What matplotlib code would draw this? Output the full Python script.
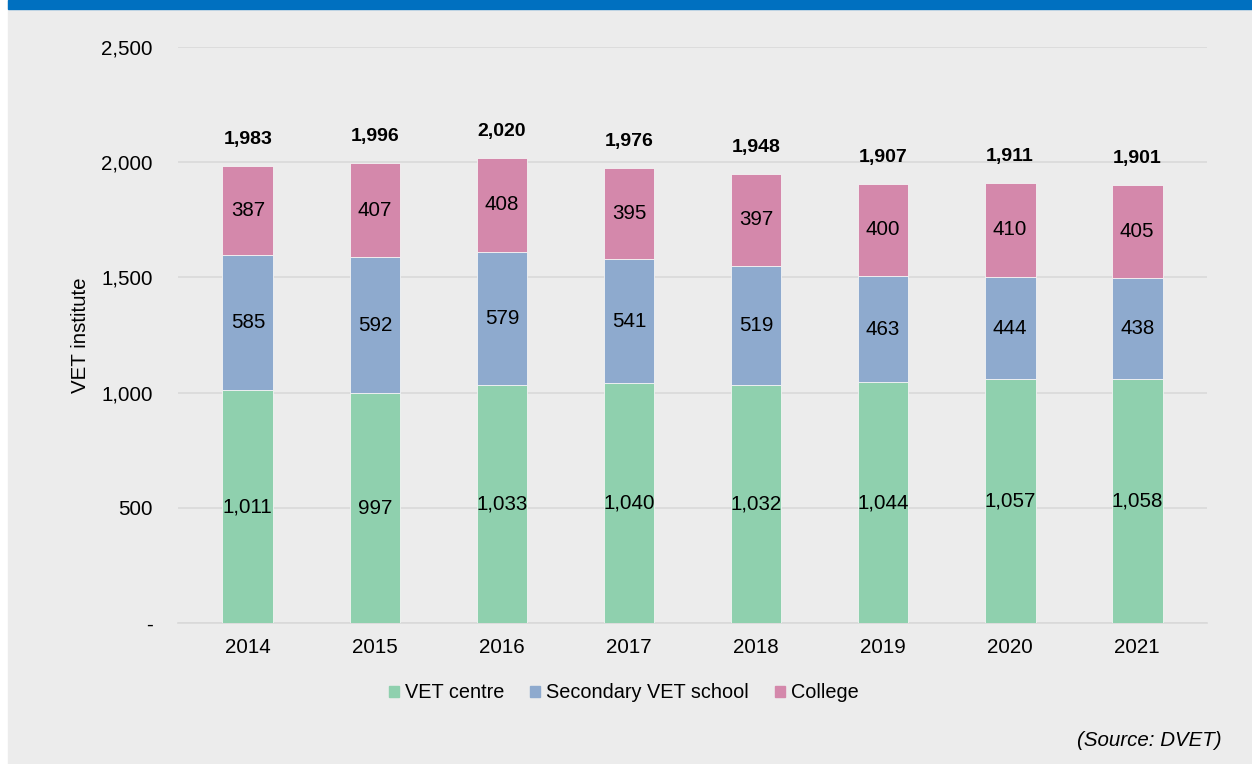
import matplotlib.pyplot as plt
import matplotlib.patches as mpatches
import numpy as np

plt.rcParams['font.family'] = ['Liberation Sans', 'DejaVu Sans']

years = ['2014', '2015', '2016', '2017', '2018', '2019', '2020', '2021']
vet_centre = [1011, 997, 1033, 1040, 1032, 1044, 1057, 1058]
secondary = [585, 592, 579, 541, 519, 463, 444, 438]
college = [387, 407, 408, 395, 397, 400, 410, 405]
totals = [1983, 1996, 2020, 1976, 1948, 1907, 1911, 1901]

series_names = ['VET centre', 'Secondary VET school', 'College']
colors = ['#8FD0AE', '#8EAACE', '#D488AB']
bg = '#ECECEC'
fs = 14.8

fig = plt.figure(figsize=(12.52, 7.64), dpi=100)
fig.patch.set_facecolor('white')
# grey panel and blue top band
fig.add_artist(mpatches.Rectangle((8 / 1252, 0), 1 - 8 / 1252, 1, transform=fig.transFigure,
                                  color=bg, zorder=-2))
fig.add_artist(mpatches.Rectangle((8 / 1252, 1 - 9 / 764), 1 - 8 / 1252, 9 / 764,
                                  transform=fig.transFigure, color='#0070C0', zorder=-1))

ax = fig.add_axes([178 / 1252, 1 - 623 / 764, (1207 - 178) / 1252, (623 - 47) / 764])
ax.set_facecolor(bg)

x = np.arange(len(years))
bottom = np.zeros(len(years))
for vals, name, col in zip([vet_centre, secondary, college], series_names, colors):
    vals = np.array(vals)
    ax.bar(x, vals, 0.4, bottom=bottom, color=col, edgecolor='#F4F4F4', linewidth=0.6,
           label=name, zorder=3)
    for xi, b, v in zip(x, bottom, vals):
        ax.text(xi, b + v / 2, f'{v:,}', ha='center', va='center', fontsize=fs, zorder=4)
    bottom += vals

for xi, t in zip(x, totals):
    ax.text(xi, t + 115, f'{t:,}', ha='center', va='center', fontsize=14,
            fontweight='bold', zorder=4)

ax.set_xlim(-0.55, 7.55)
ax.set_ylim(0, 2500)
ax.set_yticks([0, 500, 1000, 1500, 2000, 2500])
ax.set_yticklabels(['-', '500', '1,000', '1,500', '2,000', '2,500'])
ax.set_xticks(x)
ax.set_xticklabels(years)
ax.tick_params(axis='both', length=0, labelsize=fs, colors='#000000')
ax.tick_params(axis='y', pad=18)
ax.tick_params(axis='x', pad=11)
ax.yaxis.grid(True, color='#D9D9D9', linewidth=1.2, zorder=0)
for s in ['top', 'right', 'left']:
    ax.spines[s].set_visible(False)
ax.spines['bottom'].set_color('#D9D9D9')
ax.spines['bottom'].set_linewidth(1.2)
ax.set_ylabel('VET institute', fontsize=fs, labelpad=8)

handles = [mpatches.Patch(color=c, label=n) for c, n in zip(colors, series_names)]
fig.legend(handles=handles, loc='center', bbox_to_anchor=(624 / 1252, 1 - 693 / 764),
           ncol=3, frameon=False, fontsize=14.3, handlelength=0.5, handleheight=0.5,
           handletextpad=0.3, columnspacing=1.3)

fig.text(1222 / 1252, 1 - 740 / 764, '(Source: DVET)', ha='right', va='center',
         fontsize=fs, style='italic')

fig.savefig('out.png', dpi=100, facecolor=fig.get_facecolor())
